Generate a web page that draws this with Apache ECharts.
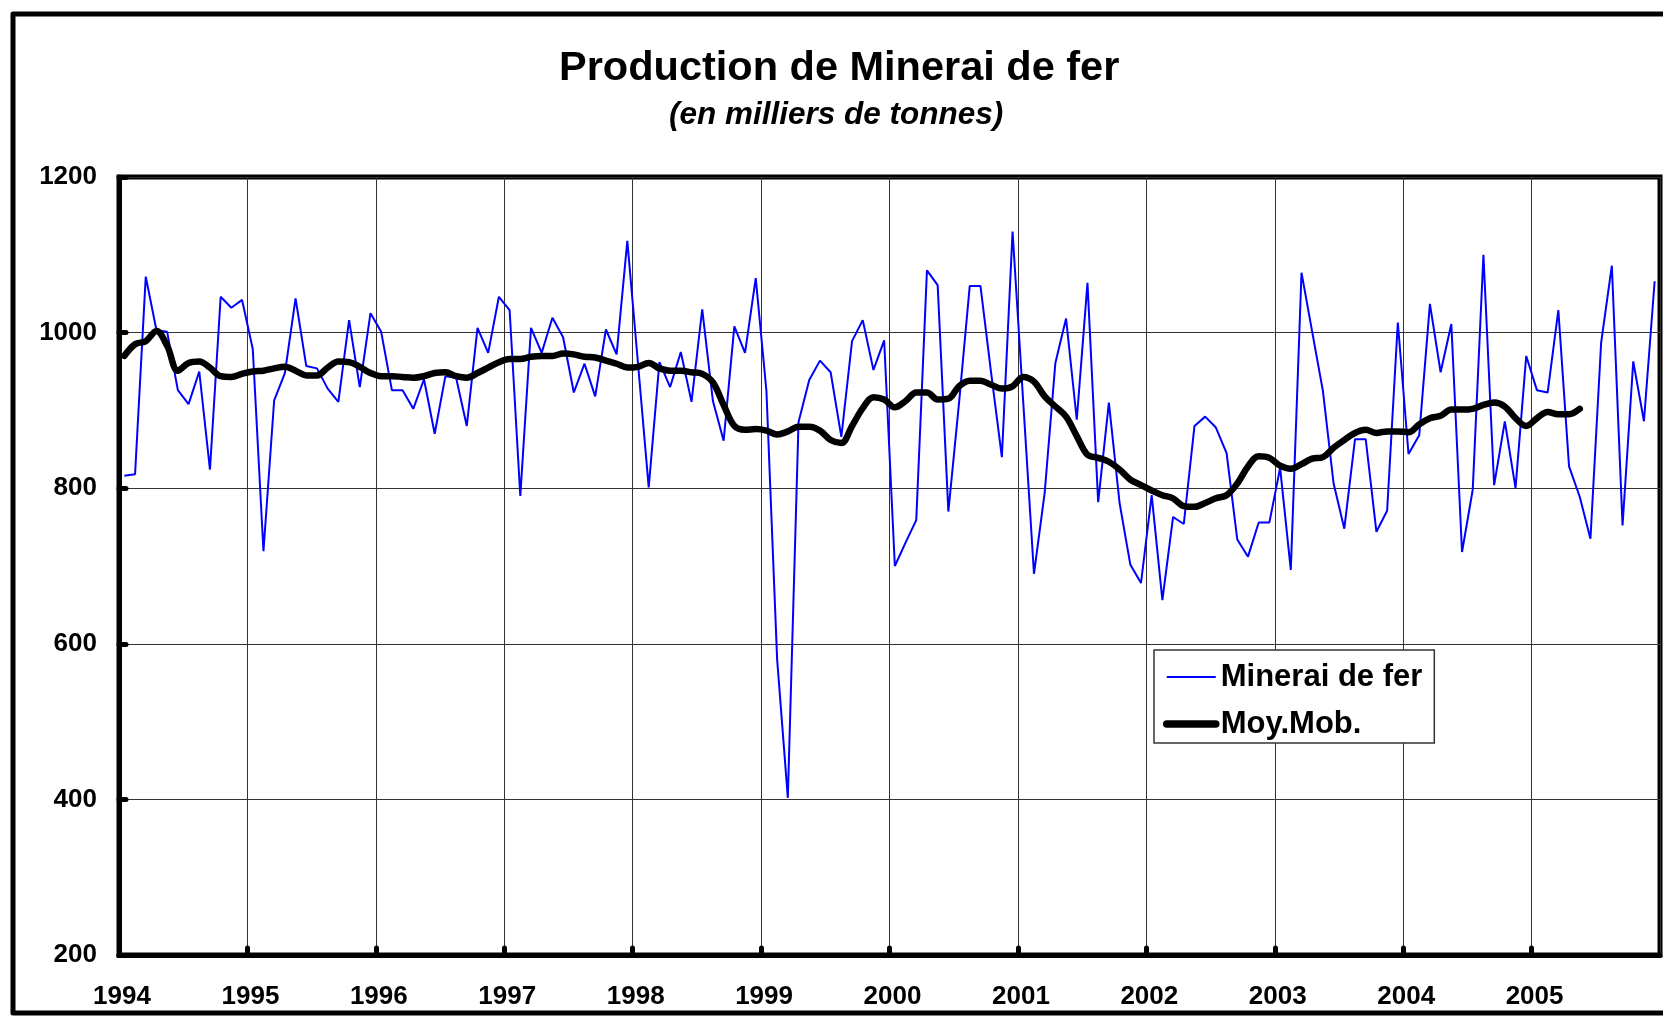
<!DOCTYPE html>
<html>
<head>
<meta charset="utf-8">
<script src="https://cdn.jsdelivr.net/npm/echarts@6/dist/echarts.min.js"></script>
<style>
html,body{margin:0;padding:0;background:#ffffff;}
#chart{width:1663px;height:1017px;}
</style>
</head>
<body>
<div id="chart"></div>
<script>
// ---- Data (monthly, Jan 1994 – Dec 2005) ----
const years = [1994, 1995, 1996, 1997, 1998, 1999, 2000, 2001, 2002, 2003, 2004, 2005];

const minerai = [
  816, 818, 1072, 1003, 1001, 926, 908, 950, 824, 1046, 1032, 1042,   // 1994
  979, 719, 913, 948, 1044, 957, 954, 928, 911, 1016, 930, 1025,      // 1995
  1001, 926, 926, 902, 940, 870, 944, 942, 880, 1006, 974, 1046,      // 1996
  1029, 790, 1006, 974, 1019, 994, 923, 960, 918, 1004, 972, 1118,    // 1997
  960, 801, 962, 930, 975, 911, 1030, 912, 861, 1008, 974, 1070,      // 1998
  925, 580, 402, 885, 939, 964, 949, 866, 989, 1016, 952, 990,        // 1999
  700, 730, 759, 1080, 1061, 770, 910, 1060, 1060, 948, 840, 1130,    // 2000
  910, 690, 794, 961, 1018, 888, 1064, 782, 910, 781, 702, 678,       // 2001
  791, 656, 763, 754, 880, 892, 878, 845, 734, 712, 756, 756,         // 2002
  826, 695, 1077, 1001, 925, 806, 748, 863, 863, 744, 771, 1013,      // 2003
  844, 868, 1037, 949, 1011, 718, 798, 1100, 804, 886, 800, 970,      // 2004
  926, 923, 1029, 828, 789, 735, 987, 1086, 752, 963, 886, 1066       // 2005
];

const moyMob = [
  970, 985, 989, 1002, 983, 951, 961, 963, 955, 944, 943, 947,        // 1994
  950, 951, 954, 956, 951, 945, 945, 955, 963, 962, 956, 948,         // 1995
  944, 944, 943, 942, 944, 948, 949, 944, 942, 948, 955, 962,         // 1996
  966, 966, 969, 970, 970, 973, 972, 969, 968, 964, 960, 955,         // 1997
  956, 961, 954, 951, 951, 949, 947, 936, 907, 880, 875, 876,         // 1998
  874, 869, 873, 879, 879, 874, 862, 858, 880, 903, 917, 914,         // 1999
  904, 912, 923, 923, 914, 915, 931, 938, 938, 933, 928, 931,         // 2000
  943, 937, 918, 905, 892, 867, 843, 839, 834, 824, 811, 804,         // 2001
  797, 791, 787, 777, 776, 781, 787, 791, 806, 828, 841, 839,         // 2002
  829, 825, 831, 838, 840, 852, 862, 871, 875, 871, 873, 873,         // 2003
  872, 882, 890, 893, 901, 901, 902, 907, 910, 905, 890, 880,         // 2004
  890, 898, 895, 895, 902, null, null, null, null, null, null, null   // 2005
];

const yMin = 200, yMax = 1200, yStep = 200;
const monthsPerYear = 12;

// ---- Build series data: month index centred in its slot ----
const toPoints = arr => arr.map((v, i) => [i + 0.5, v]);

const FONT = '"Liberation Sans", Arial, sans-serif';
const chart = echarts.init(document.getElementById('chart'), null, {renderer: 'canvas'});

chart.setOption({
  animation: false,
  backgroundColor: '#ffffff',
  title: [
    {
      text: 'Production de Minerai de fer',
      left: 559, top: 48, padding: 0,
      textStyle: {fontFamily: FONT, fontWeight: 'bold', fontSize: 41.5, color: '#000'}
    },
    {
      text: '(en milliers de tonnes)',
      left: 669, top: 99, padding: 0,
      textStyle: {fontFamily: FONT, fontWeight: 'bold', fontStyle: 'italic', fontSize: 31.5, color: '#000'}
    }
  ],
  graphic: [{
    type: 'rect',
    shape: {x: 13, y: 14, width: 1700, height: 999},
    style: {fill: 'none', stroke: '#000', lineWidth: 5, lineJoin: 'round'},
    silent: true, z: 0
  }],
  grid: {
    left: 119, right: 3, top: 177, bottom: 62,
    show: true, borderColor: '#000', borderWidth: 5, backgroundColor: '#fff'
  },
  legend: {
    orient: 'vertical',
    left: 1154, top: 650,
    padding: [10, 12, 2, 9],
    itemGap: 13,
    itemWidth: 49, itemHeight: 14,
    backgroundColor: '#fff',
    borderColor: '#333', borderWidth: 1.5,
    itemStyle: {opacity: 0},
    textStyle: {fontFamily: FONT, fontWeight: 'bold', fontSize: 31, color: '#000', lineHeight: 34},
    data: [
      {name: 'Minerai de fer', itemStyle: {opacity: 0}, lineStyle: {width: 2, color: '#0000ff', opacity: 1}},
      {name: 'Moy.Mob.', itemStyle: {opacity: 0}, lineStyle: {width: 7.5, color: '#000', cap: 'round', opacity: 1}}
    ]
  },
  xAxis: {
    type: 'value',
    min: 0, max: years.length * monthsPerYear, interval: monthsPerYear,
    axisLine: {show: true, onZero: false, lineStyle: {color: '#000', width: 5}},
    axisTick: {show: true, inside: true, length: 7, lineStyle: {color: '#000', width: 5, cap: 'round'}},
    splitLine: {show: true, lineStyle: {color: '#333', width: 1}},
    axisLabel: {
      margin: 29,
      padding: [0, 0, 0, 6],
      fontFamily: FONT, fontWeight: 'bold', fontSize: 26, color: '#000',
      showMaxLabel: false,
      formatter: v => {
        const k = Math.round(v / monthsPerYear);
        return k < years.length ? String(years[k]) : '';
      }
    }
  },
  yAxis: {
    type: 'value',
    min: yMin, max: yMax, interval: yStep,
    axisLine: {show: true, lineStyle: {color: '#000', width: 5}},
    axisTick: {show: true, inside: true, length: 7, lineStyle: {color: '#000', width: 5, cap: 'round'}},
    splitLine: {show: true, lineStyle: {color: '#333', width: 1}},
    axisLabel: {
      margin: 22, fontFamily: FONT, fontWeight: 'bold', fontSize: 26, color: '#000',
      formatter: v => String(v)
    }
  },
  series: [
    {
      name: 'Minerai de fer',
      type: 'line',
      data: toPoints(minerai),
      symbol: 'none',
      lineStyle: {color: '#0000ff', width: 2},
      itemStyle: {color: '#0000ff'},
      z: 3
    },
    {
      name: 'Moy.Mob.',
      type: 'line',
      data: toPoints(moyMob),
      symbol: 'none',
      smooth: 0.35,
      connectNulls: false,
      lineStyle: {color: '#000', width: 6.5, cap: 'round', join: 'round'},
      itemStyle: {color: '#000'},
      z: 4
    }
  ]
});
</script>
</body>
</html>
